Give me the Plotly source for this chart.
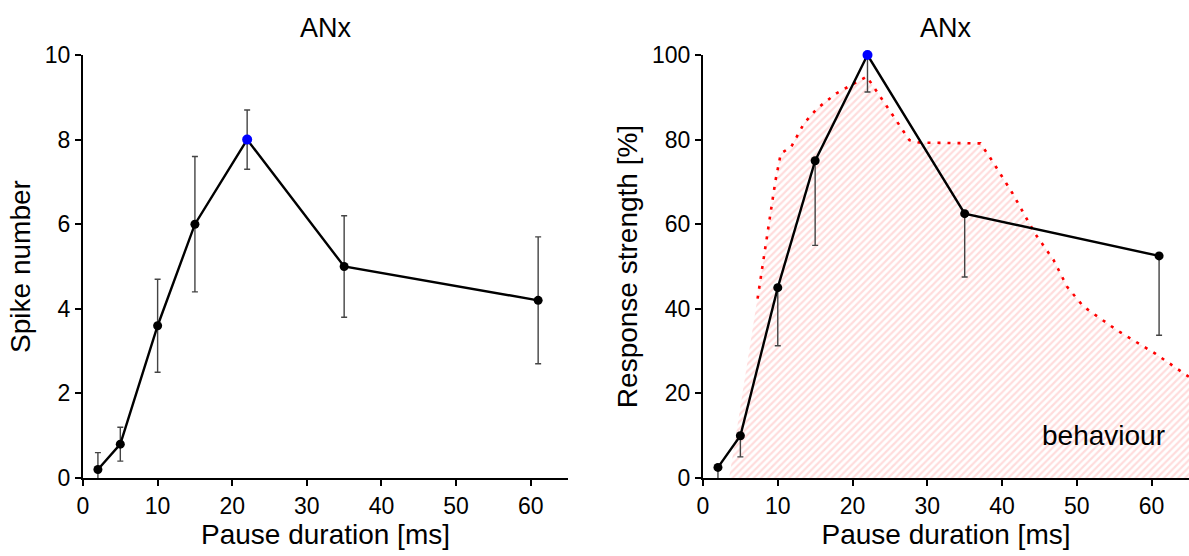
import plotly.graph_objects as go

# ---- data ----
pause_ms = [2, 5, 10, 15, 22, 35, 61]
spike_number = [0.2, 0.8, 3.6, 6.0, 8.0, 5.0, 4.2]
spike_err = [0.4, 0.4, 1.1, 1.6, 0.7, 1.2, 1.5]

response_pct = [2.5, 10, 45, 75, 100, 62.5, 52.5]
response_err_minus = [5, 5, 13.75, 20, 8.75, 15, 18.75]

behaviour_x = [3.5, 7.3, 8.5, 9.7, 10.4, 11.8, 13.5, 15.3, 17.8, 20.8, 21.9, 24.3, 25.8,
               27.6, 28.9, 37.1, 38.6, 41.4, 44.4, 46.9, 48.7, 50.9, 55.4, 60.5, 65]
behaviour_y = [0, 42.4, 56.2, 70.4, 76.7, 78.3, 83.8, 87.4, 90.9, 93.7, 94.9, 88.6, 84.6,
               79.9, 79.3, 79.1, 75.2, 67.3, 57.8, 51.5, 45.2, 40.5, 34.9, 29.4, 23.9]

peak_idx = 4
FONT = "Liberation Sans, Arial, Helvetica, sans-serif"
TICK_SIZE = 23
TITLE_SIZE = 28

W, H = 1189, 556
fig = go.Figure()

marker_colors = ["black"] * peak_idx + ["#0000ff"] + ["black"] * (len(pause_ms) - peak_idx - 1)
marker_sizes = [9] * peak_idx + [10] + [9] * (len(pause_ms) - peak_idx - 1)
marker_style = dict(color=marker_colors, size=marker_sizes, opacity=1, line=dict(width=0))

# ---- left panel ----
fig.add_trace(go.Scatter(
    x=pause_ms, y=spike_number, mode="lines+markers",
    line=dict(color="black", width=2.4),
    marker=marker_style,
    error_y=dict(type="data", array=spike_err, symmetric=True, color="#444444", thickness=1.4, width=3),
    cliponaxis=False, showlegend=False, xaxis="x", yaxis="y"))

# ---- right panel ----
fig.add_trace(go.Scatter(
    x=behaviour_x, y=behaviour_y, mode="lines", fill="tozeroy",
    line=dict(width=0, color="rgba(0,0,0,0)"),
    fillcolor="rgba(0,0,0,0)",
    fillpattern=dict(shape="/", fgcolor="#ffbaba", bgcolor="rgba(255,255,255,0)", size=5, solidity=0.45),
    showlegend=False, hoverinfo="skip", xaxis="x2", yaxis="y2"))
fig.add_trace(go.Scatter(
    x=behaviour_x[1:], y=behaviour_y[1:], mode="lines",
    line=dict(color="#ff0000", width=2.6, dash="3px,7px"),
    showlegend=False, xaxis="x2", yaxis="y2"))
fig.add_trace(go.Scatter(
    x=pause_ms, y=response_pct, mode="lines+markers",
    line=dict(color="black", width=2.4),
    marker=marker_style,
    error_y=dict(type="data", array=[0] * len(pause_ms), arrayminus=response_err_minus, symmetric=False,
                 color="#444444", thickness=1.4, width=3),
    cliponaxis=False, showlegend=False, xaxis="x2", yaxis="y2"))

ydom = [(H - 478) / H, (H - 55) / H]
xdom1 = [83 / W, 568 / W]
xdom2 = [703 / W, 1.0]

axis_common = dict(showline=True, linecolor="black", linewidth=2, ticks="outside", ticklen=6,
                   tickwidth=2, tickcolor="black", showgrid=False, zeroline=False,
                   tickfont=dict(family=FONT, size=TICK_SIZE, color="black"), automargin=False)

fig.update_layout(
    width=W, height=H, margin=dict(l=0, r=0, t=0, b=0),
    paper_bgcolor="white", plot_bgcolor="white",
    font=dict(family=FONT, color="black"),
    xaxis=dict(domain=xdom1, range=[0, 65], tickvals=[0, 10, 20, 30, 40, 50, 60], anchor="y",
               title=dict(text="Pause duration [ms]", font=dict(size=TITLE_SIZE, family=FONT), standoff=0),
               **axis_common),
    yaxis=dict(domain=ydom, range=[0, 10], tickvals=[0, 2, 4, 6, 8, 10], anchor="x",
               title=dict(text="Spike number", font=dict(size=TITLE_SIZE, family=FONT), standoff=6),
               **axis_common),
    xaxis2=dict(domain=xdom2, range=[0, 65], tickvals=[0, 10, 20, 30, 40, 50, 60], anchor="y2",
                title=dict(text="Pause duration [ms]", font=dict(size=TITLE_SIZE, family=FONT), standoff=0),
                **axis_common),
    yaxis2=dict(domain=ydom, range=[0, 100], tickvals=[0, 20, 40, 60, 80, 100], anchor="x2",
                title=dict(text="Response strength [%]", font=dict(size=TITLE_SIZE, family=FONT), standoff=6),
                **axis_common),
    annotations=[
        dict(text="ANx", xref="paper", yref="paper", x=sum(xdom1) / 2, y=(H - 28) / H,
             showarrow=False, font=dict(size=27, family=FONT), xanchor="center", yanchor="middle"),
        dict(text="ANx", xref="paper", yref="paper", x=sum(xdom2) / 2, y=(H - 28) / H,
             showarrow=False, font=dict(size=27, family=FONT), xanchor="center", yanchor="middle"),
        dict(text="behaviour", xref="x2", yref="y2", x=53.5, y=10, showarrow=False,
             font=dict(size=TITLE_SIZE, family=FONT), xanchor="center", yanchor="middle"),
    ],
)

fig.write_html("out.html")
